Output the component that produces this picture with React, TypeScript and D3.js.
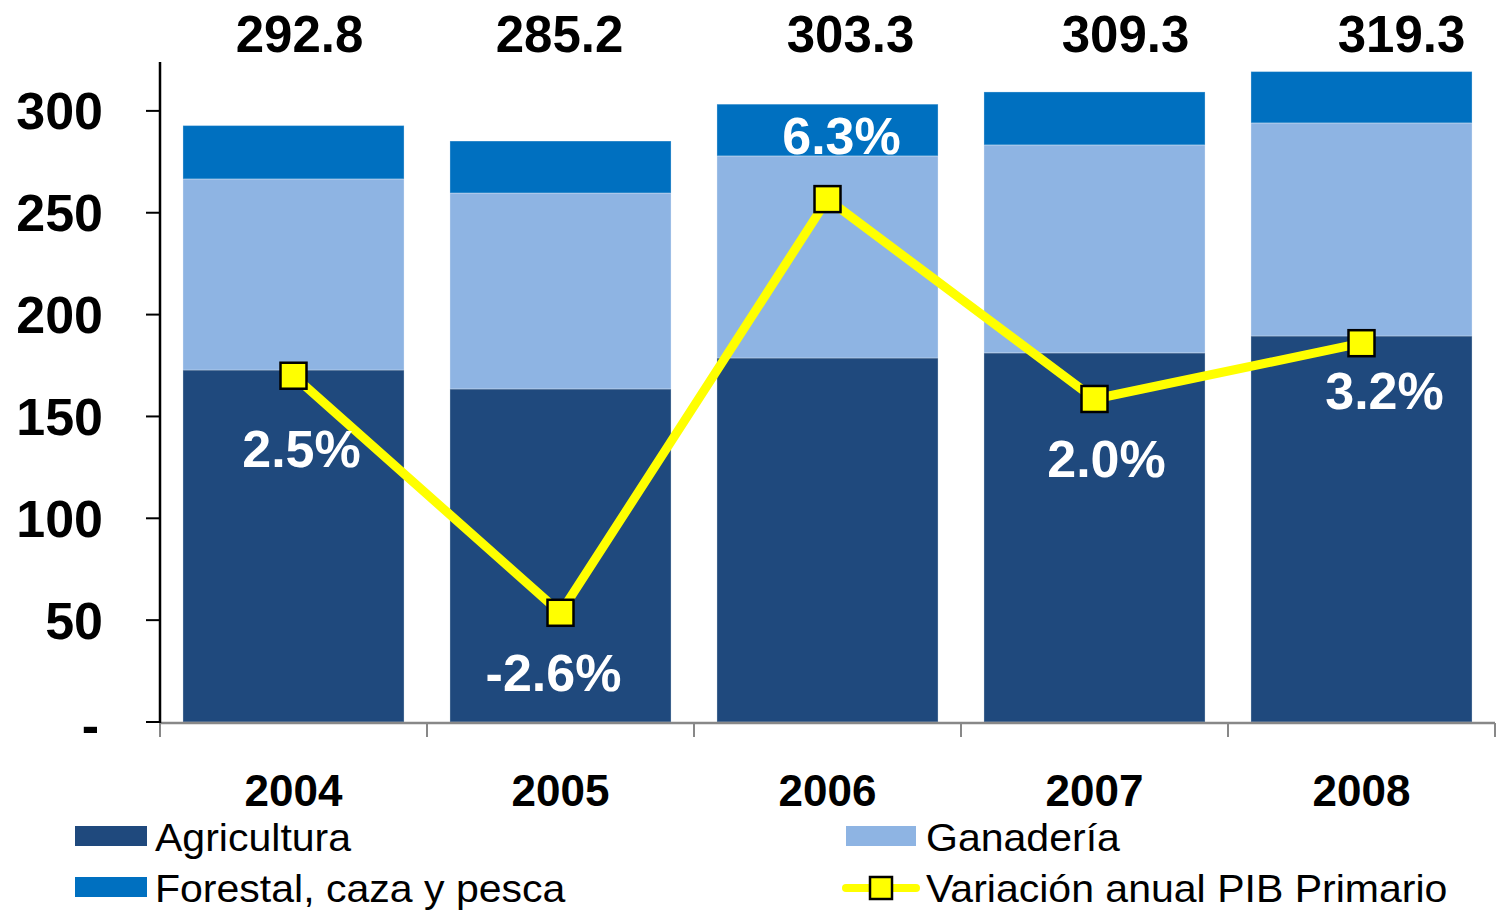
import React from "react";
import * as d3 from "d3";

const years = ["2004", "2005", "2006", "2007", "2008"];
const agricultura = [172.8, 163.5, 178.7, 181.2, 189.5];
const ganaderia = [93.8, 96.2, 99.2, 102.1, 104.6];
const forestal = [26.2, 25.5, 25.4, 26.0, 25.2];
const totals = [292.8, 285.2, 303.3, 309.3, 319.3];
const variacion = [2.5, -2.6, 6.3, 2.0, 3.2];
const yTicks = [0, 50, 100, 150, 200, 250, 300];

const seriesKeys = ["agricultura", "ganaderia", "forestal"];
const seriesNames = ["Agricultura", "Ganadería", "Forestal, caza y pesca"];
const colors = ["#1F497D", "#8EB4E3", "#0070C0"];
const lineColor = "#FFFF00";
const font = "'Liberation Sans', Arial, Helvetica, sans-serif";

// label nudges, as placed by hand in the original
const totalDx = [6, -1, 23, 31, 40];
const pctOffset = [[8, 91], [-7, 78], [14, -45], [12, 78], [23, 66]];

const W = 1499;
const H = 913;
const left = 160;
const right = 1495;
const top = 62;
const bottom = 722;

export default function App() {
  const x = d3.scaleBand().domain(years).range([left, right]).paddingInner(0.172).paddingOuter(0.086);
  const y = d3.scaleLinear().domain([0, 324]).range([bottom, top]);
  const y2 = d3.scaleLinear().domain([-4.95, 9.25]).range([bottom, top]);

  const rows = years.map((yr, i) => ({
    year: yr,
    agricultura: agricultura[i],
    ganaderia: ganaderia[i],
    forestal: forestal[i],
  }));
  const stacked = d3.stack<any>().keys(seriesKeys)(rows);

  const cx = (yr: string) => (x(yr) as number) + x.bandwidth() / 2;
  const lineGen = d3
    .line<number>()
    .x((_, i) => cx(years[i]))
    .y((v) => y2(v));

  const boundaries = years.map((yr) => (x(yr) as number) - (x.step() - x.bandwidth()) / 2).concat([right]);
  const ms = 26;

  return (
    <svg width={W} height={H} style={{ position: "absolute", left: 0, top: 0 }} fontFamily={font}>
      <rect width={W} height={H} fill="#fff" />
      {stacked.map((s, si) => (
        <g key={s.key} fill={colors[si]}>
          {s.map((d, i) => (
            <rect
              key={i}
              x={x(years[i])}
              width={x.bandwidth()}
              y={y(d[1])}
              height={y(d[0]) - y(d[1])}
              stroke="rgba(255,255,255,0.3)"
              strokeWidth={1}
            />
          ))}
        </g>
      ))}

      {/* x axis */}
      <line x1={left} x2={right} y1={bottom + 1} y2={bottom + 1} stroke="#888" strokeWidth={2.5} />
      {boundaries.map((b, i) => (
        <line key={i} x1={b} x2={b} y1={bottom + 1} y2={bottom + 15} stroke="#888" strokeWidth={2} />
      ))}
      {years.map((yr) => (
        <text key={yr} x={cx(yr)} y={806} textAnchor="middle" fontSize={44} fontWeight="bold">
          {yr}
        </text>
      ))}

      {/* y axis */}
      <line x1={left} x2={left} y1={top} y2={bottom + 1} stroke="#000" strokeWidth={2.5} />
      {yTicks.map((t) => (
        <g key={t}>
          <line x1={146} x2={left} y1={y(t)} y2={y(t)} stroke="#000" strokeWidth={2} />
          <text x={t === 0 ? 99 : 103} y={y(t) + (t === 0 ? 21 : 18.5)} textAnchor="end" fontSize={52} fontWeight="bold">
            {t === 0 ? "-" : t}
          </text>
        </g>
      ))}

      {/* totals */}
      {years.map((yr, i) => (
        <text key={yr} x={cx(yr) + totalDx[i]} y={52} textAnchor="middle" fontSize={51} fontWeight="bold">
          {totals[i].toFixed(1)}
        </text>
      ))}

      {/* line */}
      <path d={lineGen(variacion) || ""} fill="none" stroke={lineColor} strokeWidth={9} strokeLinejoin="round" />
      {variacion.map((v, i) => (
        <rect
          key={i}
          x={cx(years[i]) - ms / 2}
          y={y2(v) - ms / 2}
          width={ms}
          height={ms}
          fill={lineColor}
          stroke="#000"
          strokeWidth={2.5}
        />
      ))}
      {variacion.map((v, i) => (
        <text
          key={i}
          x={cx(years[i]) + pctOffset[i][0]}
          y={y2(v) + pctOffset[i][1]}
          textAnchor="middle"
          fontSize={52}
          fontWeight="bold"
          fill="#fff"
        >
          {v.toFixed(1) + "%"}
        </text>
      ))}

      {/* legend */}
      {[0, 1, 2].map((si) => {
        const lx = si === 1 ? 846 : 75;
        const ly = si === 2 ? 877 : 826;
        return (
          <g key={si}>
            <rect x={lx} y={ly} width={si === 1 ? 70 : 72} height={20} fill={colors[si]} />
            <text
              transform={`translate(${lx + 80},${ly + 25}) scale(1.08,1)`}
              fontSize={38}
            >
              {seriesNames[si]}
            </text>
          </g>
        );
      })}
      <g>
        <line x1={846} x2={916} y1={888} y2={888} stroke={lineColor} strokeWidth={8} strokeLinecap="round" />
        <rect x={870} y={877} width={22} height={22} fill={lineColor} stroke="#000" strokeWidth={2.5} />
        <text transform={`translate(926,902) scale(1.08,1)`} fontSize={38}>
          Variación anual PIB Primario
        </text>
      </g>
    </svg>
  );
}
